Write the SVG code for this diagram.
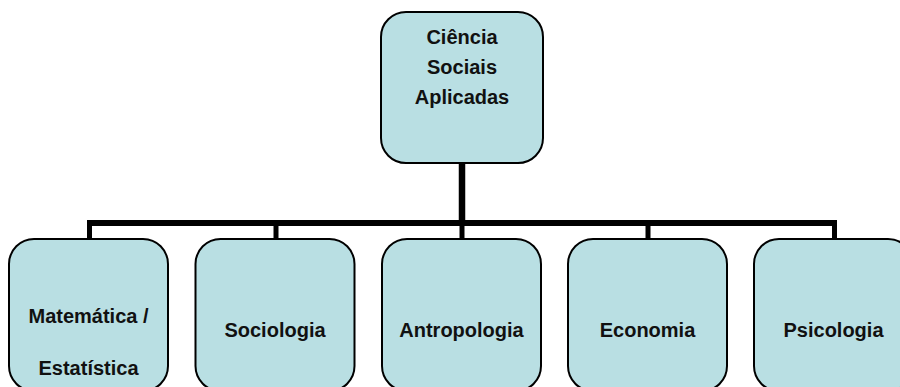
<svg xmlns="http://www.w3.org/2000/svg" width="900" height="387" viewBox="0 0 900 387">
<style>
.box{fill:#B9DFE3;stroke:#000;stroke-width:2}
.t{font-family:"Liberation Sans",Arial,sans-serif;font-weight:bold;font-size:20px;fill:#111;text-anchor:middle}
.ln{stroke:#000;fill:none}
</style>
<rect width="900" height="387" fill="#fff"/>
<g id="connectors">
<line class="ln" x1="462" y1="163" x2="462" y2="223" stroke-width="6.5"/>
<line class="ln" x1="87" y1="223" x2="837" y2="223" stroke-width="6"/>
<line class="ln" x1="89.5" y1="220" x2="89.5" y2="240" stroke-width="5"/>
<line class="ln" x1="276" y1="220" x2="276" y2="240" stroke-width="5"/>
<line class="ln" x1="462" y1="220" x2="462" y2="240" stroke-width="5"/>
<line class="ln" x1="648" y1="220" x2="648" y2="240" stroke-width="5"/>
<line class="ln" x1="834.5" y1="220" x2="834.5" y2="240" stroke-width="5"/>
</g>
<g id="root">
<rect class="box" x="381" y="12" width="162" height="151" rx="25"/>
<text class="t" x="462" y="44">Ciência</text>
<text class="t" x="462" y="74">Sociais</text>
<text class="t" x="462" y="104">Aplicadas</text>
</g>
<g id="matematica">
<rect class="box" x="9" y="239" width="159" height="152" rx="25"/>
<text class="t" x="88.5" y="323">Matemática /</text>
<text class="t" x="88.5" y="375">Estatística</text>
</g>
<g id="sociologia">
<rect class="box" x="195.5" y="239" width="159" height="152" rx="25"/>
<text class="t" x="275" y="337">Sociologia</text>
</g>
<g id="antropologia">
<rect class="box" x="382" y="239" width="159" height="152" rx="25"/>
<text class="t" x="461.5" y="337">Antropologia</text>
</g>
<g id="economia">
<rect class="box" x="568" y="239" width="159" height="152" rx="25"/>
<text class="t" x="647.5" y="337">Economia</text>
</g>
<g id="psicologia">
<rect class="box" x="754" y="239" width="159" height="152" rx="25"/>
<text class="t" x="833.5" y="337">Psicologia</text>
</g>
</svg>
